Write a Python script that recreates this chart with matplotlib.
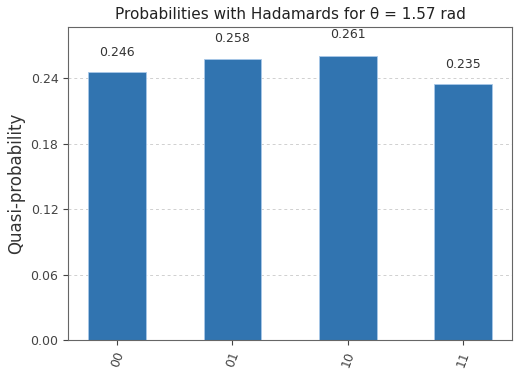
import numpy as np
import matplotlib
matplotlib.use("Agg")
import matplotlib.pyplot as plt

labels = ["00", "01", "10", "11"]
values = [0.246, 0.258, 0.261, 0.235]
yticks = [0.00, 0.06, 0.12, 0.18, 0.24]

bar_color = "#3174b0"
text_color = "#333333"

fig, ax = plt.subplots(figsize=(5.2, 3.72), dpi=100)
fig.subplots_adjust(left=0.131, right=0.985, top=0.927, bottom=0.086)

x = np.arange(len(labels))
bars = ax.bar(x, values, width=0.5, color=bar_color, edgecolor="#a8c8e8",
              linewidth=0.6, zorder=2)

for rect, v in zip(bars, values):
    ax.text(rect.get_x() + rect.get_width() / 2, 1.05 * v, "%.3f" % v,
            ha="center", va="bottom", fontsize=9, color=text_color)

ax.set_ylim(0, max(values) * 1.1)
ax.set_yticks(yticks)
ax.set_yticklabels(["%.2f" % t for t in yticks], fontsize=9, color=text_color)
ax.set_xticks(x)
ax.set_xticklabels(labels, rotation=70, fontsize=9, color=text_color)
ax.yaxis.grid(True, linestyle=(0, (3, 3)), color="#d0d0d0", linewidth=0.7,
              zorder=0)
ax.set_axisbelow(True)
ax.set_ylabel("Quasi-probability", fontsize=12, color=text_color)
ax.set_title("Probabilities with Hadamards for θ = 1.57 rad", fontsize=11,
             color="#222222")
for s in ax.spines.values():
    s.set_color("#666666")
ax.tick_params(colors="#444444")

fig.savefig("out.png", dpi=100)
